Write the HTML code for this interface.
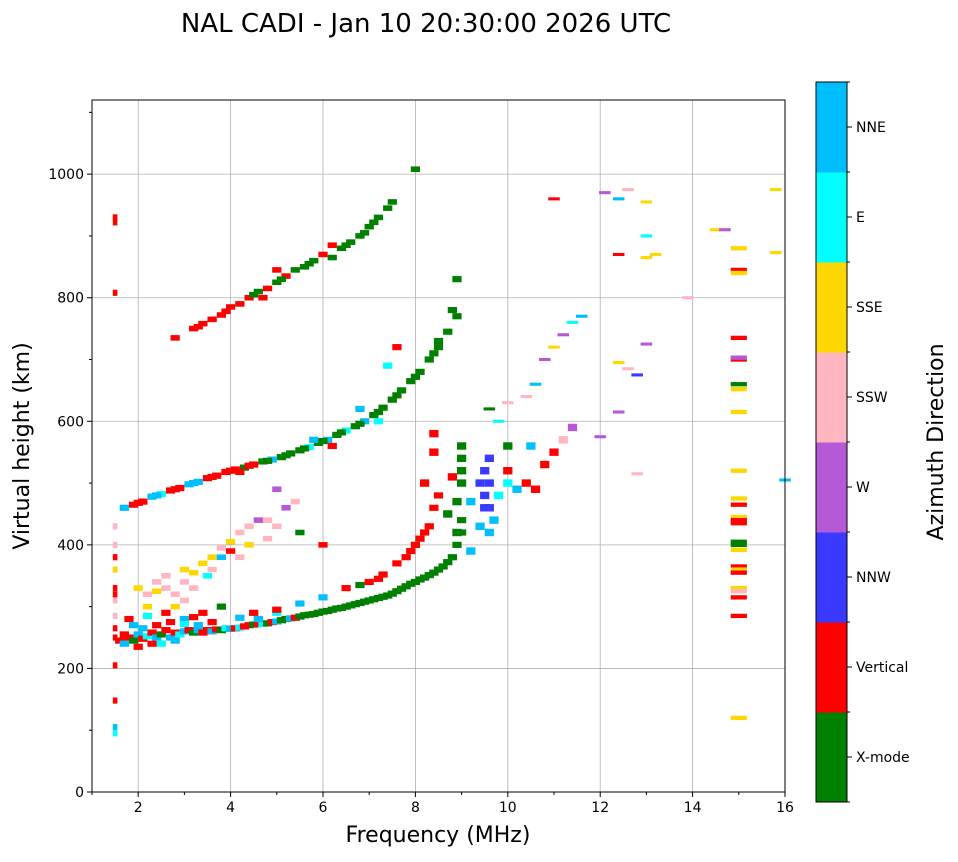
<!DOCTYPE html>
<html><head><meta charset="utf-8"><style>
body{margin:0;background:#fff;font-family:"Liberation Sans","DejaVu Sans",sans-serif}
svg text{font-family:"DejaVu Sans","Liberation Sans",sans-serif}
</style></head><body>
<svg id="chart" width="958" height="857" viewBox="0 0 958 857" xmlns="http://www.w3.org/2000/svg">
<text x="426" y="32" font-size="26" text-anchor="middle">NAL CADI - Jan 10 20:30:00 2026 UTC</text>
<g id="grid"></g><g id="marks"></g><g id="axes"></g><g id="cbar"></g>
<text x="438" y="842" font-size="22" text-anchor="middle">Frequency (MHz)</text>
<text transform="translate(29,446) rotate(-90)" font-size="22" text-anchor="middle">Virtual height (km)</text>
<text transform="translate(943,442) rotate(-90)" font-size="22" text-anchor="middle">Azimuth Direction</text>
</svg>
<script>
const xTicks=[2,4,6,8,10,12,14,16];
const yTicks=[0,200,400,600,800,1000];
const directions=["X-mode","Vertical","NNW","W","SSW","SSE","E","NNE"];
const dirColors=["#008000","#ff0000","#3a3aff","#b45ad6","#ffb6c1","#ffd700","#00ffff","#00bfff"];
const lowerTrace=[[1.6,245,1],[1.7,240,7],[1.8,250,1],[1.9,245,0],[2.0,255,7],[2.1,248,1],[2.2,252,6],[2.3,258,1],[2.4,250,7],[2.5,255,0],[2.6,262,1],[2.7,250,7],[2.8,258,1],[2.9,255,6],[3.0,260,7],[3.1,262,1],[3.2,258,0],[3.3,262,7],[3.4,258,1],[3.5,262,1],[3.6,260,7],[3.7,263,1],[3.8,262,0],[3.9,265,6],[4.0,264,7],[4.1,265,1],[4.2,266,6],[4.3,268,1],[4.4,270,1],[4.5,271,0],[4.6,272,1],[4.7,272,6],[4.8,273,0],[4.9,275,1],[5.0,276,7],[5.1,278,0],[5.2,280,0],[5.3,281,7],[5.4,282,1],[5.5,284,0],[5.6,286,0],[5.7,287,0],[5.8,288,0],[5.9,290,0],[6.0,292,0],[6.1,293,0],[6.2,295,0],[6.3,297,0],[6.4,298,0],[6.5,300,0],[6.6,302,0],[6.7,304,0],[6.8,306,0],[6.9,308,0],[7.0,310,0],[7.1,312,0],[7.2,314,0],[7.3,316,0],[7.4,318,0],[7.5,321,0],[7.6,325,0],[7.7,329,0],[7.8,333,0],[7.9,337,0],[8.0,340,0],[8.1,344,0],[8.2,347,0],[8.3,351,0],[8.4,355,0],[8.5,360,0],[8.6,365,0],[8.7,372,0],[8.8,380,0],[8.9,400,0],[9.0,420,0],[9.0,440,0],[1.8,280,1],[2.2,285,6],[2.6,290,1],[3.0,280,7],[3.4,290,1],[3.8,300,0],[3.0,272,6],[2.4,270,1],[2.0,235,1],[2.8,245,7],[3.6,275,1],[4.2,282,7],[1.9,270,7],[2.5,240,6],[3.2,283,1],[4.6,280,7],[5.0,290,6],[2.1,265,7],[2.7,275,1],[3.3,270,7],[1.7,255,1],[2.3,240,1]];
const upperTrace=[[4.5,290,1],[5.0,295,1],[5.5,305,7],[6.0,315,7],[6.5,330,1],[7.0,340,1],[7.3,352,1],[7.6,370,1],[7.9,390,1],[8.1,410,1],[8.3,430,1],[8.4,460,1],[8.5,480,1],[7.2,345,1],[6.8,335,0],[7.8,380,1],[8.0,400,1],[8.2,420,1]];
const cloud=[[2.0,330,5],[2.2,320,4],[2.4,325,5],[2.6,330,4],[2.8,320,4],[3.0,340,4],[3.2,355,5],[3.4,370,5],[3.6,380,5],[3.8,395,4],[4.0,405,5],[4.2,420,4],[4.4,430,4],[4.6,440,3],[4.8,440,4],[5.0,430,4],[5.2,460,3],[5.4,470,4],[4.2,380,4],[3.0,310,4],[2.6,350,4],[2.8,300,5],[3.5,350,6],[3.8,380,7],[4.0,390,1],[5.5,420,0],[6.0,400,1],[5.0,490,3],[2.4,340,4],[3.2,330,4],[3.6,360,4],[4.4,400,5],[4.8,410,4],[2.2,300,5],[3.0,360,5]];
const cluster=[[9.2,470,7],[9.4,500,2],[9.5,520,2],[9.6,540,2],[9.5,480,2],[9.6,460,2],[9.7,440,7],[9.8,480,6],[10.0,500,6],[10.2,490,7],[10.0,520,1],[10.4,500,1],[10.6,490,1],[10.8,530,1],[11.0,550,1],[11.2,570,4],[11.4,590,3],[9.0,540,0],[9.0,500,0],[9.0,560,0],[8.8,510,1],[8.4,550,1],[8.4,580,1],[8.2,500,1],[10.0,560,0],[10.5,560,7],[9.4,430,7],[9.6,420,7],[9.2,390,7],[8.9,470,0],[8.7,450,0],[8.9,420,0],[9.0,520,0],[9.5,460,2],[9.6,500,2]];
const secondHop=[[1.7,460,7],[1.9,465,1],[2.1,470,1],[2.3,478,7],[2.5,482,6],[2.7,488,1],[2.9,492,1],[3.1,498,7],[3.3,502,7],[3.5,508,1],[3.7,512,1],[3.9,518,1],[4.1,522,1],[4.3,525,0],[4.5,530,1],[4.7,535,0],[4.9,538,7],[5.1,542,0],[5.3,548,0],[5.5,553,0],[5.7,558,6],[5.9,565,0],[6.1,570,7],[6.3,578,0],[6.5,585,6],[6.7,592,0],[6.9,600,7],[7.1,610,0],[7.3,622,0],[7.5,635,0],[7.7,650,0],[7.9,665,0],[8.1,680,0],[8.3,700,0],[8.5,720,0],[8.7,745,0],[8.9,770,0],[8.8,780,0],[8.9,830,0],[7.4,690,6],[7.6,720,1],[7.2,600,6],[6.8,620,7],[6.2,560,1],[5.8,570,7],[4.0,520,1],[4.2,518,1],[2.0,468,1],[2.4,480,7],[2.8,490,1],[3.2,500,7],[3.6,510,1],[4.4,528,1],[4.8,536,0],[5.2,545,0],[5.6,556,0],[6.0,568,0],[6.4,582,0],[6.8,596,0],[7.2,615,0],[7.6,642,0],[8.0,672,0],[8.4,710,0],[8.5,730,0]];
const thirdHop=[[2.8,735,1],[3.2,750,1],[3.4,758,1],[3.6,765,1],[3.8,772,1],[4.0,785,1],[4.2,790,1],[4.4,800,1],[4.6,810,0],[4.8,815,1],[5.0,825,0],[5.2,835,1],[5.4,845,0],[5.6,850,0],[5.8,860,0],[6.0,870,1],[6.2,865,0],[6.4,880,0],[6.6,890,0],[6.8,900,0],[7.0,915,0],[7.2,930,0],[7.4,945,0],[7.5,955,0],[8.0,1008,0],[6.2,885,1],[5.0,845,1],[4.7,800,1],[3.3,753,1],[3.9,778,1],[4.5,805,0],[5.1,830,0],[5.7,855,0],[6.5,885,0],[6.9,905,0],[7.1,922,0]];
const rightScatter=[[10.6,660,7],[10.8,700,3],[11.0,720,5],[11.2,740,3],[11.4,760,6],[11.6,770,7],[10.4,640,4],[10.0,630,4],[9.8,600,6],[9.6,620,0],[12.1,970,3],[12.4,960,7],[12.6,975,4],[13.0,955,5],[13.0,900,6],[13.0,865,5],[13.2,870,5],[12.4,870,1],[12.8,675,2],[13.0,725,3],[12.4,695,5],[12.6,685,4],[12.4,615,3],[12.0,575,3],[12.8,515,4],[14.5,910,5],[14.7,910,3],[11.0,960,1],[15.8,975,5],[15.8,873,5],[16.0,505,7],[13.9,800,4]];
const column15=[[15,880,5],[15,845,1],[15,840,5],[15,735,1],[15,700,1],[15,703,3],[15,660,0],[15,652,5],[15,615,5],[15,520,5],[15,475,5],[15,465,1],[15,445,5],[15,440,1],[15,435,1],[15,405,0],[15,400,0],[15,392,5],[15,365,1],[15,360,5],[15,355,1],[15,330,5],[15,325,4],[15,315,1],[15,285,1],[15,120,5]];
const column15b=[[1.5,930,1],[1.5,922,1],[1.5,808,1],[1.5,430,4],[1.5,400,4],[1.5,380,1],[1.5,360,5],[1.5,330,1],[1.5,320,1],[1.5,310,4],[1.5,265,1],[1.5,205,1],[1.5,148,1],[1.5,105,7],[1.5,95,6],[1.5,250,1],[1.5,285,4]];

const L=92,R=785,T=100,B=792,x0=1,x1=16,y0=0,y1=1120;
const xs=f=>L+(f-x0)/(x1-x0)*(R-L);
const ys=h=>B-(h-y0)/(y1-y0)*(B-T);
const NS="http://www.w3.org/2000/svg";
function mk(tag,attrs,parent){const e=document.createElementNS(NS,tag);for(const k in attrs)e.setAttribute(k,attrs[k]);parent.appendChild(e);return e;}
const grid=document.getElementById('grid'),marks=document.getElementById('marks'),axes=document.getElementById('axes'),cbar=document.getElementById('cbar');
xTicks.forEach(t=>{const g=mk('line',{x1:xs(t),x2:xs(t),y1:T,y2:B,stroke:'#b0b0b0','stroke-width':0.8},grid);

});
yTicks.forEach(t=>{const g=mk('line',{x1:L,x2:R,y1:ys(t),y2:ys(t),stroke:'#b0b0b0','stroke-width':0.8},grid);

});
function draw(arr,w,hk,name){arr.forEach(p=>{const r=mk('rect',{x:xs(p[0]-w/2),y:ys(p[1]+hk/2),width:xs(w)-xs(0),height:ys(0)-ys(hk),fill:dirColors[p[2]]},marks);

});}
draw(lowerTrace,0.2,10,'echo-lower-trace');
draw(upperTrace,0.2,10,'echo-upper-trace');
draw(cloud,0.2,9,'echo-cloud');
draw(cluster,0.2,12,'echo-cluster');
draw(secondHop,0.2,10,'echo-second-hop');
draw(thirdHop,0.2,9,'echo-third-hop');
draw(rightScatter,0.25,5,'echo-scatter');
draw(column15,0.35,7,'echo-column-15mhz');
draw(column15b,0.1,10,'echo-column-1-5mhz');
mk('rect',{x:L,y:T,width:R-L,height:B-T,fill:'none',stroke:'#000','stroke-width':1},axes);
xTicks.forEach(t=>{mk('line',{x1:xs(t),x2:xs(t),y1:B,y2:B+5,stroke:'#000'},axes);
const tx=mk('text',{x:xs(t),y:B+20,'font-size':14,'text-anchor':'middle'},axes);tx.textContent=t;

});
for(let m=1;m<=15;m+=2)mk('line',{x1:xs(m),x2:xs(m),y1:B,y2:B+3,stroke:'#000'},axes);
yTicks.forEach(t=>{mk('line',{x1:L-5,x2:L,y1:ys(t),y2:ys(t),stroke:'#000'},axes);
const tx=mk('text',{x:L-8,y:ys(t)+5,'font-size':14,'text-anchor':'end'},axes);tx.textContent=t;

});
for(let m=100;m<=1100;m+=200)mk('line',{x1:L-3,x2:L,y1:ys(m),y2:ys(m),stroke:'#000'},axes);
const cT=82,cB=802,cL=816,cW=31,bh=(cB-cT)/directions.length;
directions.forEach((d,i)=>{const yTop=cB-(i+1)*bh;
const r=mk('rect',{x:cL,y:yTop,width:cW,height:bh+0.5,fill:dirColors[i]},cbar);


mk('line',{x1:cL+cW,x2:cL+cW+5,y1:yTop+bh/2,y2:yTop+bh/2,stroke:'#000'},cbar);
const tx=mk('text',{x:cL+cW+9,y:yTop+bh/2+5,'font-size':14},cbar);tx.textContent=d;

});
for(let i=0;i<=directions.length;i++)mk('line',{x1:cL+cW,x2:cL+cW+3,y1:cB-i*bh,y2:cB-i*bh,stroke:'#000'},cbar);
mk('rect',{x:cL,y:cT,width:cW,height:cB-cT,fill:'none',stroke:'#000'},cbar);
</script>
</body></html>
